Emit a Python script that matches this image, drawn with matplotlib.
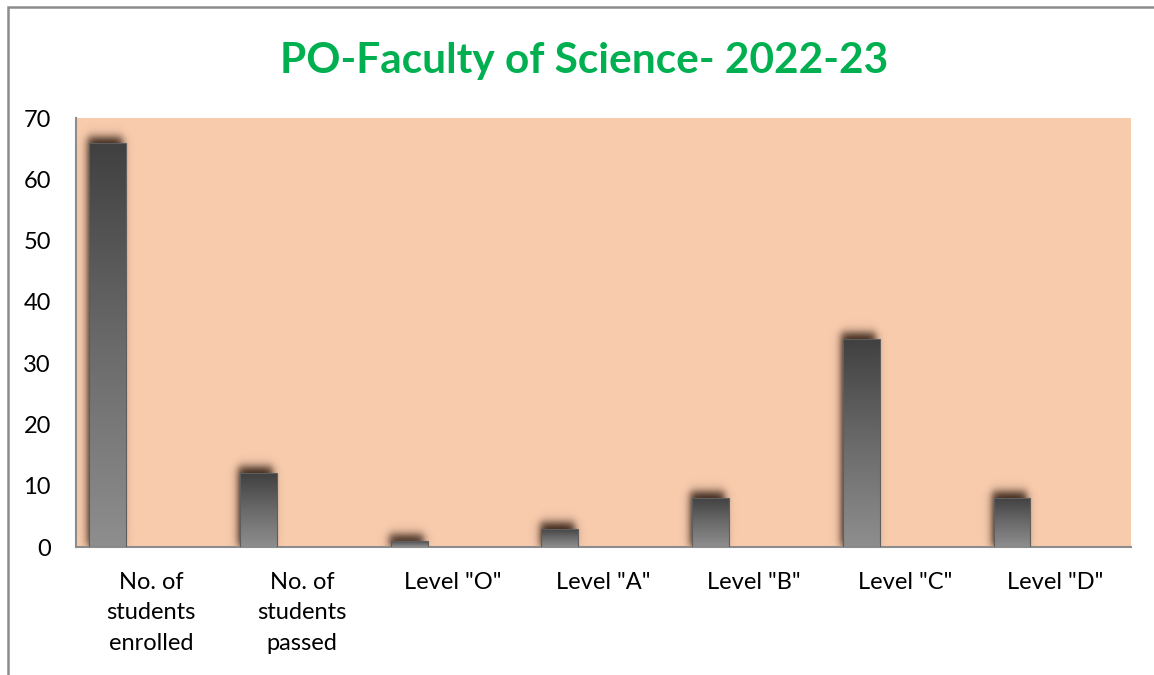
import numpy as np
import matplotlib.pyplot as plt
from matplotlib.patches import Rectangle
from matplotlib.colors import LinearSegmentedColormap

# chart data
categories = ["No. of\nstudents\nenrolled", "No. of\nstudents\npassed",
              'Level "O"', 'Level "A"', 'Level "B"', 'Level "C"', 'Level "D"']
counts = [66, 12, 1, 3, 8, 34, 8]
y_ticks = [0, 10, 20, 30, 40, 50, 60, 70]

plt.rcParams['font.family'] = ['Lato', 'DejaVu Sans']


def draw_chart():
    fig = plt.figure(figsize=(11.54, 6.75), dpi=100)
    fig.patch.set_facecolor("white")

    # outer chart frame (runs off the bottom and right like the screenshot)
    frame = Rectangle((8 / 1154, -0.1), 1.2, 1 - 7 / 675 + 0.1,
                      transform=fig.transFigure, fill=False,
                      edgecolor="#8c8c8c", linewidth=1.8)
    fig.add_artist(frame)

    ax = fig.add_axes([76 / 1154, 1 - 547 / 675, (1131 - 76) / 1154, (547 - 118) / 675])
    ax.set_facecolor("#F8CBAD")

    x = np.arange(len(counts))
    width = 0.245
    offset = -0.5 + 0.088 + width / 2

    # soft shadow behind each bar, shifted up and left
    sx, sy = 0.032, 0.9
    for xi, v in zip(x, counts):
        l = xi + offset - width / 2 - 0.012
        r = xi + offset + width / 2 - 0.028
        b, t = 0, v + 1.0
        gx = np.linspace(l - 0.1, r + 0.1, 150)
        gy = np.linspace(b, t + 3.5, 260)
        X, Y = np.meshgrid(gx, gy)
        a = (0.5 * (1 + np.tanh((X - l) / sx)) * 0.5 * (1 + np.tanh((r - X) / sx))
             * 0.5 * (1 + np.tanh((Y - b) / sy)) * 0.5 * (1 + np.tanh((t - Y) / sy)))
        img = np.zeros(a.shape + (4,))
        img[..., 0] = 0.17
        img[..., 1] = 0.10
        img[..., 2] = 0.06
        img[..., 3] = a * 0.95
        ax.imshow(img, extent=[gx[0], gx[-1], gy[0], gy[-1]], origin="lower",
                  aspect="auto", interpolation="bilinear", zorder=1)

    bars = ax.bar(x + offset, counts, width=width, facecolor="none",
                  edgecolor="#5e5e5e", linewidth=0.8, zorder=3)

    # vertical grey gradient, dark at top
    cmap = LinearSegmentedColormap.from_list("g", ["#8e8e8e", "#6a6a6a", "#404040"])
    grad = np.linspace(0, 1, 256).reshape(-1, 1)
    for bar, v in zip(bars, counts):
        bx = bar.get_x()
        im = ax.imshow(grad, extent=[bx, bx + width, 0, v], origin="lower",
                       cmap=cmap, aspect="auto", interpolation="bicubic", zorder=2)
        im.set_clip_path(bar)

    ax.set_xlim(-0.5, len(counts) - 0.5)
    ax.set_ylim(0, 70)
    ax.set_yticks(y_ticks)
    ax.set_yticklabels([str(t) for t in y_ticks], fontsize=17)
    ax.set_xticks(x)
    ax.set_xticklabels(categories, fontsize=17, linespacing=1.55, va="top")
    ax.tick_params(axis="both", length=0)
    ax.tick_params(axis="x", pad=18)
    ax.tick_params(axis="y", pad=18)

    for side in ["top", "right"]:
        ax.spines[side].set_visible(False)
    for side in ["left", "bottom"]:
        ax.spines[side].set_color("#8c8c8c")
        ax.spines[side].set_linewidth(1.5)

    fig.text(584 / 1154, 1 - 61 / 675, "PO-Faculty of Science- 2022-23",
             ha="center", va="center", fontsize=30.5, fontweight="bold",
             color="#00B050")

    fig.savefig("out.png", dpi=100)
    plt.close(fig)


def main():
    draw_chart()


if __name__ == "__main__":
    main()
